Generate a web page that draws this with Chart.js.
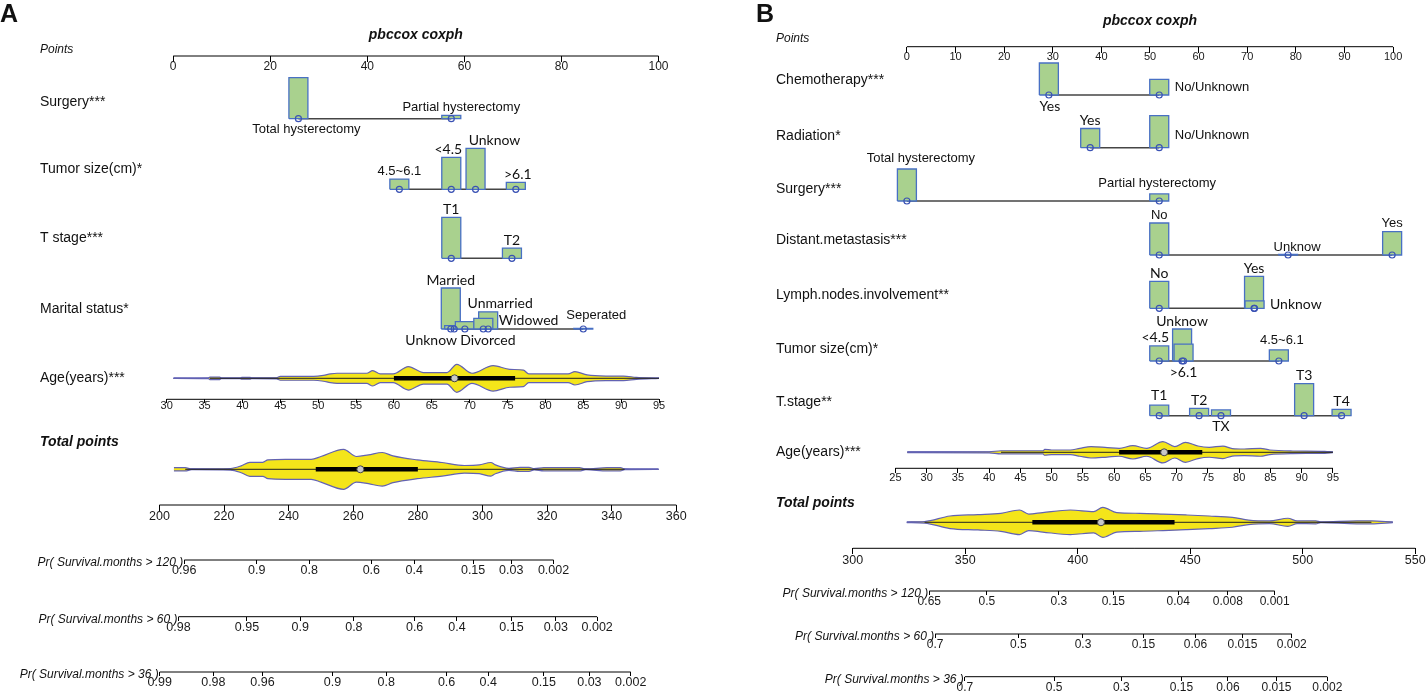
<!DOCTYPE html>
<html>
<head>
<meta charset="utf-8">
<script src="https://cdn.jsdelivr.net/npm/chart.js@4.4.1/dist/chart.umd.min.js"></script>
<style>
  body { margin: 0; background: #fff; }
  #wrap { position: relative; width: 1426px; height: 693px; }
  .panel { position: absolute; top: 0; height: 693px; }
  #pa { left: 0; width: 700px; }
  #pb { left: 700px; width: 726px; }
</style>
</head>
<body>
<div id="wrap">
  <div class="panel" id="pa"><canvas id="chartA"></canvas></div>
  <div class="panel" id="pb"><canvas id="chartB"></canvas></div>
</div>
<script>
// ---------- panel A data ----------
const aPointTicks = [0, 20, 40, 60, 80, 100];
const aSurgeryLevels = ["Total hysterectomy", "Partial hysterectomy"];
const aSurgeryPoints = [25.8, 57.3];
const aSurgeryFreq = [1.0, 0.08];
const aTumorLevels = ["4.5~6.1", "<4.5", "Unknow", ">6.1"];
const aTumorPoints = [46.6, 57.3, 62.3, 70.6];
const aTumorFreq = [0.25, 0.78, 1.0, 0.17];
const aStageLevels = ["T1", "T2"];
const aStagePoints = [57.3, 69.8];
const aStageFreq = [1.0, 0.25];
const aMaritalLevels = ["Married", "Unknow", "Divorced", "Unmarried", "Widowed", "Seperated"];
const aMaritalPoints = [57.2, 57.9, 60.1, 64.9, 63.9, 84.5];
const aMaritalFreq = [1.0, 0.08, 0.18, 0.42, 0.26, 0.0];

const aAgeTicks = [30, 35, 40, 45, 50, 55, 60, 65, 70, 75, 80, 85, 90, 95];
const aAgeGrid = [30.9, 35.5, 35.7, 37.0, 37.2, 39.7, 39.9, 41.0, 41.2, 44.5, 45.0, 49.4, 50.7, 51.6, 52.5, 56.4, 57.2, 58.2, 59.9, 61.9, 63.9, 67.0, 68.3, 70.3, 73.1, 75.3, 77.1, 77.8, 83.0, 83.9, 85.5, 88.0, 90.3, 92.0, 95.0];
const aAgeDensity = [0, 0.02, 0.09, 0.09, 0.02, 0.02, 0.06, 0.06, 0.03, 0.04, 0.14, 0.14, 0.21, 0.31, 0.36, 0.36, 0.55, 0.31, 0.31, 0.84, 0.41, 0.41, 1.0, 0.36, 0.91, 0.64, 0.59, 0.31, 0.31, 0.48, 0.24, 0.16, 0.16, 0.07, 0];
const aAgeBox = [60, 68, 76];
const aAgeRange = [30.9, 95];
const aAgeCore = [35.7, 95];

const aTotalTicks = [200, 220, 240, 260, 280, 300, 320, 340, 360];
const aTotalGrid = [204.5, 208, 210, 222, 225.3, 228, 232, 233.6, 239, 247, 250, 257, 261, 264.7, 269, 272.3, 279.8, 287.5, 294.4, 299, 302.6, 304, 308.2, 311.6, 314.4, 316, 319, 330, 332, 338.6, 342.7, 344, 354.5];
const aTotalDensity = [0.08, 0.08, 0.02, 0.04, 0.17, 0.35, 0.35, 0.47, 0.5, 0.5, 0.64, 1.0, 0.64, 0.72, 0.84, 0.67, 0.47, 0.34, 0.19, 0.22, 0.34, 0.22, 0.05, 0.1, 0.1, 0.03, 0.08, 0.08, 0.02, 0.08, 0.08, 0.02, 0];
const aTotalBox = [248.4, 262.2, 280];
const aTotalRange = [204.5, 354.5];
const aTotalCore = [208, 344];

const aPr120Labels = ["0.96", "0.9", "0.8", "0.6", "0.4", "0.15", "0.03", "0.002"];
const aPr120At = [207.7, 230.1, 246.4, 265.6, 278.9, 297.1, 308.9, 322.0];
const aPr60Labels = ["0.98", "0.95", "0.9", "0.8", "0.6", "0.4", "0.15", "0.03", "0.002"];
const aPr60At = [205.9, 227.1, 243.6, 260.2, 279.0, 292.1, 309.0, 322.7, 335.5];
const aPr36Labels = ["0.99", "0.98", "0.96", "0.9", "0.8", "0.6", "0.4", "0.15", "0.03", "0.002"];
const aPr36At = [200.1, 216.7, 231.9, 253.6, 270.2, 288.9, 301.8, 319.0, 333.1, 345.9];

// ---------- panel B data ----------
const bPointTicks = [0, 10, 20, 30, 40, 50, 60, 70, 80, 90, 100];
const bChemoLevels = ["Yes", "No/Unknown"];
const bChemoPoints = [29.2, 51.9];
const bChemoFreq = [1.0, 0.49];
const bRadiationLevels = ["Yes", "No/Unknown"];
const bRadiationPoints = [37.7, 51.9];
const bRadiationFreq = [0.6, 1.0];
const bSurgeryLevels = ["Total hysterectomy", "Partial hysterectomy"];
const bSurgeryPoints = [0, 51.9];
const bSurgeryFreq = [1.0, 0.22];
const bDistantLevels = ["No", "Unknow", "Yes"];
const bDistantPoints = [51.9, 78.4, 99.8];
const bDistantFreq = [1.0, 0.0, 0.73];
const bLymphLevels = ["No", "Yes", "Unknow"];
const bLymphPoints = [51.9, 71.4, 71.5];
const bLymphFreq = [0.84, 1.0, 0.23];
const bTumorLevels = ["<4.5", "Unknow", ">6.1", "4.5~6.1"];
const bTumorPoints = [51.9, 56.6, 56.9, 76.5];
const bTumorFreq = [0.47, 1.0, 0.53, 0.35];
const bStageLevels = ["T1", "T2", "TX", "T3", "T4"];
const bStagePoints = [51.9, 60.1, 64.6, 81.7, 89.4];
const bStageFreq = [0.33, 0.23, 0.18, 1.0, 0.2];

const bAgeTicks = [25, 30, 35, 40, 45, 50, 55, 60, 65, 70, 75, 80, 85, 90, 95];
const bAgeGrid = [26.9, 40, 41.9, 45.6, 48.6, 48.9, 50, 53, 54.5, 56.3, 58.9, 60.8, 63, 65.2, 67.8, 69.7, 71.4, 73.4, 75.2, 77.4, 78.9, 80.8, 83.4, 84.9, 88.6, 93.7, 95];
const bAgeDensity = [0.03, 0.05, 0.14, 0.14, 0.14, 0.27, 0.21, 0.21, 0.36, 0.52, 0.43, 0.36, 0.61, 0.36, 0.97, 0.52, 0.91, 0.57, 0.45, 0.57, 0.34, 0.3, 0.36, 0.21, 0.12, 0.09, 0.03];
const bAgeBox = [60.8, 68, 74.1];
const bAgeRange = [26.9, 95];
const bAgeCore = [41.9, 95];

const bTotalTicks = [300, 350, 400, 450, 500, 550];
const bTotalGrid = [324, 331.9, 343.2, 355.6, 365.8, 374.1, 378.2, 384.4, 396.7, 407, 411.1, 417.3, 427.6, 437.9, 448.1, 458.4, 468.7, 475.9, 485.2, 493.4, 497.5, 505.8, 508, 524, 530.5, 540];
const bTotalDensity = [0.02, 0.05, 0.42, 0.51, 0.6, 0.82, 0.55, 0.65, 0.82, 0.71, 1.0, 0.65, 0.6, 0.55, 0.49, 0.42, 0.33, 0.15, 0.09, 0.27, 0.09, 0.1, 0.02, 0.1, 0.1, 0.02];
const bTotalBox = [379.8, 410.3, 443];
const bTotalRange = [324, 540];
const bTotalCore = [331.9, 530.5];

const bPr120Labels = ["0.65", "0.5", "0.3", "0.15", "0.04", "0.008", "0.001"];
const bPr120At = [334.0, 359.6, 391.6, 415.8, 444.6, 466.7, 487.5];
const bPr60Labels = ["0.7", "0.5", "0.3", "0.15", "0.06", "0.015", "0.002"];
const bPr60At = [336.6, 373.6, 402.3, 429.2, 452.3, 473.2, 495.1];
const bPr36Labels = ["0.7", "0.5", "0.3", "0.15", "0.06", "0.015", "0.002"];
const bPr36At = [349.8, 389.5, 419.3, 446.1, 466.7, 488.3, 510.9];

// ---------- styles ----------
const GREEN = "#a9d18e", BAR_EDGE = "#4870c4", LINK = "#454545", RING = "#3a52b4";
const VIOLIN = "#f4e51a", VIOLIN_EDGE = "#6262b2", RANGE = "#3535a5";
const SANS = '"Liberation Sans", Arial, sans-serif';
const ALT = 'Lato, "Liberation Sans", sans-serif';
Chart.defaults.font.family = SANS;

// ---------- layout (pixel positions inside each panel) ----------
const layoutA = {
  canvas: "chartA", width: 700, height: 693,
  letter: { text: "A", x: 0, y: 15 }, titleY: 35, labelX: 40,
  pointTicks: aPointTicks,
  points: { y: 56, from: 173.2, to: 658.5, labelY: 50, tl: 6, pad: -2.5, font: 12 },
  barHeight: 41, barWidth: 19,
  rows: [
    { name: "Surgery***", y: 118.7, nameY: 102, levels: aSurgeryLevels, points: aSurgeryPoints, freq: aSurgeryFreq,
      place: [{ side: "below", dx: 8 }, { side: "above", dx: 10 }] },
    { name: "Tumor size(cm)*", y: 189.3, nameY: 169, levels: aTumorLevels, points: aTumorPoints, freq: aTumorFreq,
      place: [{ side: "above" }, { side: "above", dx: -3, alt: 1 }, { side: "above", dx: 19, alt: 1 }, { side: "above", dx: 2, alt: 1 }] },
    { name: "T stage***", y: 258.3, nameY: 238, levels: aStageLevels, points: aStagePoints, freq: aStageFreq,
      place: [{ side: "above", alt: 1 }, { side: "above", alt: 1 }] },
    { name: "Marital status*", y: 329, nameY: 309, levels: aMaritalLevels, points: aMaritalPoints, freq: aMaritalFreq,
      place: [{ side: "above", alt: 1 }, { side: "below", dx: -23, alt: 1 }, { side: "below", dx: 23, alt: 1 },
              { side: "above", dx: 12, alt: 1 }, { side: "right", dy: -1, alt: 1 }, { side: "above", dx: 13, dy: -6 }] }
  ],
  age: { name: "Age(years)***", nameY: 378, y: 378.3, axisY: 399.3, from: 166.7, to: 659, tl: 4, pad: -3.5, font: 11,
         maxHalf: 14, ticks: aAgeTicks, grid: aAgeGrid, dens: aAgeDensity, box: aAgeBox, range: aAgeRange, core: aAgeCore },
  total: { nameY: 442, y: 469.3, axisY: 505, from: 159.4, to: 676.3, tl: 6, pad: -2, font: 12.5,
           maxHalf: 20, ticks: aTotalTicks, grid: aTotalGrid, dens: aTotalDensity, box: aTotalBox, range: aTotalRange, core: aTotalCore },
  prTicks: { tl: 4, pad: -0.5, font: 12.5 },
  pr: [
    { title: "Pr( Survival.months > 120 )", y: 560, labels: aPr120Labels, at: aPr120At },
    { title: "Pr( Survival.months > 60 )", y: 616.7, labels: aPr60Labels, at: aPr60At },
    { title: "Pr( Survival.months > 36 )", y: 672, labels: aPr36Labels, at: aPr36At }
  ]
};

const layoutB = {
  canvas: "chartB", width: 726, height: 693,
  letter: { text: "B", x: 56, y: 15 }, titleY: 21, labelX: 76,
  pointTicks: bPointTicks,
  points: { y: 46.7, from: 206.9, to: 693.1, labelY: 39, tl: 6, pad: -2.6, font: 11 },
  barHeight: 32, barWidth: 19,
  rows: [
    { name: "Chemotherapy***", y: 95, nameY: 80, levels: bChemoLevels, points: bChemoPoints, freq: bChemoFreq,
      place: [{ side: "below", dx: 1, alt: 1 }, { side: "right", dy: 0 }] },
    { name: "Radiation*", y: 147.7, nameY: 136, levels: bRadiationLevels, points: bRadiationPoints, freq: bRadiationFreq,
      place: [{ side: "above", alt: 1 }, { side: "right", dy: -4 }] },
    { name: "Surgery***", y: 201, nameY: 189.3, levels: bSurgeryLevels, points: bSurgeryPoints, freq: bSurgeryFreq,
      place: [{ side: "above", dx: 14, dy: -3 }, { side: "above", dx: -2, dy: -3 }] },
    { name: "Distant.metastasis***", y: 255, nameY: 240, levels: bDistantLevels, points: bDistantPoints, freq: bDistantFreq,
      place: [{ side: "above" }, { side: "above", dx: 9 }, { side: "above" }] },
    { name: "Lymph.nodes.involvement**", y: 308.3, nameY: 295, levels: bLymphLevels, points: bLymphPoints, freq: bLymphFreq,
      place: [{ side: "above", alt: 1 }, { side: "above", alt: 1 }, { side: "right", dy: 4, alt: 1 }] },
    { name: "Tumor size(cm)*", y: 361, nameY: 349.3, levels: bTumorLevels, points: bTumorPoints, freq: bTumorFreq,
      place: [{ side: "above", dx: -4, alt: 1 }, { side: "above", alt: 1 }, { side: "below", alt: 1 }, { side: "above", dx: 3, dy: -1 }] },
    { name: "T.stage**", y: 415.7, nameY: 401.7, levels: bStageLevels, points: bStagePoints, freq: bStageFreq,
      place: [{ side: "above", dy: -2, alt: 1 }, { side: "above", alt: 1 }, { side: "below", alt: 1 }, { side: "above", alt: 1 }, { side: "above", alt: 1 }] }
  ],
  age: { name: "Age(years)***", nameY: 452, y: 452.3, axisY: 468.3, from: 195.4, to: 632.9, tl: 5, pad: -1.5, font: 11,
         maxHalf: 11, ticks: bAgeTicks, grid: bAgeGrid, dens: bAgeDensity, box: bAgeBox, range: bAgeRange, core: bAgeCore },
  total: { nameY: 502.7, y: 522.3, axisY: 548.3, from: 152.8, to: 715.3, tl: 6, pad: -1.5, font: 12.5,
           maxHalf: 15, ticks: bTotalTicks, grid: bTotalGrid, dens: bTotalDensity, box: bTotalBox, range: bTotalRange, core: bTotalCore },
  prTicks: { tl: 4, pad: -0.5, font: 12 },
  pr: [
    { title: "Pr( Survival.months > 120 )", y: 591, labels: bPr120Labels, at: bPr120At },
    { title: "Pr( Survival.months > 60 )", y: 634, labels: bPr60Labels, at: bPr60At },
    { title: "Pr( Survival.months > 36 )", y: 676.7, labels: bPr36Labels, at: bPr36At }
  ]
};

// ---------- helpers ----------
const last = a => a[a.length - 1];

// min/max for a scale so that v0 lands on pixel p0 and v1 on pixel p1
function span(v0, v1, p0, p1, width) {
  const k = (v1 - v0) / (p1 - p0);
  return { min: v0 - p0 * k, max: v1 + (width - p1) * k };
}

function axis(range, y, ticks, labels, t) {
  return {
    type: "linear", axis: "x", position: { y: y },
    min: range.min, max: range.max, offset: false,
    afterFit: s => { s.height = 0; },
    afterBuildTicks: s => { s.ticks = ticks.map(v => ({ value: v })); },
    grid: { offset: false, drawOnChartArea: false, drawTicks: true, tickLength: t.tl, color: "#000", lineWidth: 1 },
    border: { display: false },
    ticks: {
      autoSkip: false, maxRotation: 0, minRotation: 0, padding: t.pad, color: "#1a1a1a",
      font: { family: SANS, size: t.font },
      callback: (v, i) => labels ? labels[i] : String(v)
    }
  };
}

function line(id, pts, color, width, extra) {
  return Object.assign({
    type: "line", xAxisID: id, yAxisID: "y",
    data: pts.map(([x, y]) => ({ x, y })),
    borderColor: color, borderWidth: width, pointRadius: 0, fill: false, tension: 0
  }, extra || {});
}

function drawTexts(chart, L) {
  const ctx = chart.ctx, sx = chart.scales.x, sy = chart.scales.y;
  const Y = v => sy.getPixelForValue(v);
  const put = (txt, x, y, font, align) => {
    ctx.font = font; ctx.textAlign = align || "left"; ctx.fillText(txt, x, y);
  };
  ctx.save();
  ctx.fillStyle = "#111";
  ctx.textBaseline = "middle";
  put(L.letter.text, L.letter.x, L.letter.y, "bold 25px " + SANS);
  put("pbccox coxph", (sx.getPixelForValue(0) + sx.getPixelForValue(100)) / 2, L.titleY, "italic bold 14px " + SANS, "center");
  put("Points", L.labelX, L.points.labelY, "italic 12px " + SANS);
  L.rows.forEach(r => {
    put(r.name, L.labelX, Y(r.nameY), "14px " + SANS);
    r.levels.forEach((lev, i) => {
      const pl = r.place[i] || {};
      const cx = sx.getPixelForValue(r.points[i]);
      const base = Y(r.y);
      const top = Y(r.y - r.freq[i] * L.barHeight);
      const font = pl.alt ? "14px " + ALT : "13px " + SANS;
      const dx = pl.dx || 0, dy = pl.dy || 0;
      if (pl.side === "below") put(lev, cx + dx, base + 11 + dy, font, "center");
      else if (pl.side === "right") put(lev, cx + L.barWidth / 2 + 6 + dx, base - 8 + dy, font, "left");
      else put(lev, cx + dx, top - 8 + dy, font, "center");
    });
  });
  put(L.age.name, L.labelX, Y(L.age.nameY), "14px " + SANS);
  put("Total points", L.labelX, Y(L.total.nameY), "italic bold 14px " + SANS);
  L.pr.forEach((p, k) => {
    const s = chart.scales["xPr" + k];
    put(p.title, s.getPixelForValue(p.at[0]) - 1, Y(p.y) + 3, "italic 12px " + SANS, "right");
  });
  ctx.restore();
}

function buildPanel(L) {
  const W = L.width, H = L.height;
  const sets = [];
  const scales = { y: { type: "linear", min: 0, max: H, reverse: true, display: false } };
  const P = L.points;
  scales.x = axis(span(0, 100, P.from, P.to, W), P.y, L.pointTicks, null, P);
  sets.push(line("x", [[L.pointTicks[0], P.y], [last(L.pointTicks), P.y]], "#000", 1));

  // categorical rows: link line, frequency boxes, level markers
  const halfBox = (L.barWidth / 2) / ((P.to - P.from) / 100);   // box half width in points
  const rings = [];
  L.rows.forEach(r => {
    const lo = Math.min(...r.points), hi = Math.max(...r.points);
    sets.push(line("x", [[lo, r.y], [hi, r.y]], LINK, 1.6));
    r.points.forEach((p, i) => {
      const top = r.y - Math.max(r.freq[i] * L.barHeight, 0.5);
      const a = p - halfBox, b = p + halfBox;
      sets.push(line("x", [[a, r.y], [a, top], [b, top], [b, r.y], [a, r.y]], BAR_EDGE, 1.3,
        { fill: "shape", backgroundColor: GREEN }));
      rings.push({ x: p, y: r.y });
    });
  });
  sets.push({
    type: "line", xAxisID: "x", yAxisID: "y", data: rings, showLine: false,
    pointRadius: 3, pointBorderWidth: 1.2, pointBorderColor: RING, pointBackgroundColor: "rgba(0,0,0,0)"
  });

  // continuous rows: violin + box
  [["xAge", L.age], ["xTot", L.total]].forEach(([id, v]) => {
    scales[id] = axis(span(v.ticks[0], last(v.ticks), v.from, v.to, W), v.axisY, v.ticks, null, v);
    sets.push(line(id, [[v.ticks[0], v.axisY], [last(v.ticks), v.axisY]], "#000", 1));
    sets.push(line(id, [[v.range[0], v.y], [v.range[1], v.y]], RANGE, 1.6));
    const n = sets.length;
    sets.push(line(id, v.grid.map((g, i) => [g, v.y + v.dens[i] * v.maxHalf]), VIOLIN_EDGE, 1.2,
      { fill: n + 1, backgroundColor: VIOLIN, cubicInterpolationMode: "monotone" }));
    sets.push(line(id, v.grid.map((g, i) => [g, v.y - v.dens[i] * v.maxHalf]), VIOLIN_EDGE, 1.2,
      { cubicInterpolationMode: "monotone" }));
    sets.push(line(id, [[v.core[0], v.y], [v.core[1], v.y]], "#222", 1));
    sets.push(line(id, [[v.box[0], v.y], [v.box[2], v.y]], "#000", 4.5));
    sets.push({
      type: "line", xAxisID: id, yAxisID: "y", data: [{ x: v.box[1], y: v.y }], showLine: false,
      pointRadius: 3.5, pointBorderWidth: 1, pointBorderColor: "#444", pointBackgroundColor: "#c8c8c8"
    });
  });

  // survival probability axes, placed on the total-points scale
  L.pr.forEach((p, k) => {
    const id = "xPr" + k, t = L.total;
    scales[id] = axis(span(t.ticks[0], last(t.ticks), t.from, t.to, W), p.y, p.at, p.labels, L.prTicks);
    sets.push(line(id, [[p.at[0], p.y], [last(p.at), p.y]], "#000", 1));
  });

  // paint in push order (first pushed ends up at the bottom)
  sets.forEach((d, i) => { d.order = sets.length - i; });

  return new Chart(document.getElementById(L.canvas).getContext("2d"), {
    type: "line",
    data: { datasets: sets },
    options: {
      responsive: true,
      maintainAspectRatio: false,
      animation: false,
      events: [],
      layout: { padding: 0, autoPadding: false },
      plugins: { legend: { display: false }, tooltip: { enabled: false } },
      scales
    },
    plugins: [{ id: "nomoText", afterDraw: chart => drawTexts(chart, L) }]
  });
}

buildPanel(layoutA);
buildPanel(layoutB);
</script>
</body>
</html>
